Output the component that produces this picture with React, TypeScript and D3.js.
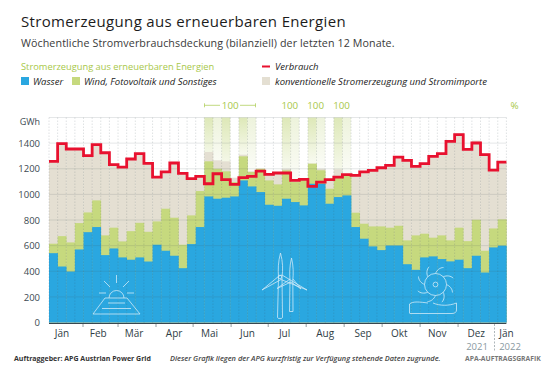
import React from "react";
import * as d3 from "d3";

const water = [541,437,398,570,705,745,526,578,508,490,508,476,607,560,521,424,612,745,984,966,974,984,1109,1062,1018,919,911,966,940,914,1083,1083,927,979,992,745,654,594,565,601,601,455,411,508,516,495,477,490,424,521,390,586,600];
const waterPlusWind = [615,674,625,776,859,953,680,740,633,713,778,708,789,888,818,607,836,1026,1258,1200,1180,1096,1297,1175,1200,1109,1078,1188,1096,1109,1240,1188,1044,1141,1148,857,771,750,750,740,755,641,680,693,662,680,641,740,635,802,560,734,805];
const total = [1260,1400,1358,1358,1306,1392,1330,1236,1216,1280,1322,1246,1138,1178,1250,1170,1125,1145,1331,1266,1258,1130,1310,1180,1200,1158,1168,1200,1110,1120,1240,1200,1118,1195,1154,1150,1180,1192,1212,1232,1295,1270,1222,1244,1300,1322,1425,1475,1358,1420,1320,1194,1256];
const consumption = [1258,1396,1354,1354,1302,1388,1325,1232,1213,1276,1318,1242,1135,1175,1245,1164,1123,1141,1083,1161,1115,1078,1130,1141,1182,1156,1167,1167,1109,1117,1062,1096,1115,1135,1154,1148,1176,1188,1208,1227,1291,1266,1219,1240,1297,1318,1414,1466,1352,1401,1310,1190,1252];
const yTicks = [0,200,400,600,800,1000,1200,1400];
const strongWeeks = [18,20,22,27,30,33];
const paleWeeks = [19,23,28,31,34];
const monthEdges = [3.94,8,12.4,16.7,21.1,25.4,29.8,34.2,38.6,43,47.4];
const monthLabels = ["Jän","Feb","Mär","Apr","Mai","Jun","Jul","Aug","Sep","Okt","Nov","Dez","Jän"];
const monthCenters = [1.5,5.7,9.85,14.5,18.6,23,27.3,32,36.4,40.6,45,49.5,53];
const percentLabels = [{ w: 21, t: "100" }, { w: 27.9, t: "100" }, { w: 30.9, t: "100" }, { w: 33.9, t: "100" }];

const W = 550, H = 367;
const x = d3.scaleLinear().domain([0, 53]).range([49, 506.4]);
const y = d3.scaleLinear().domain([0, 1600]).range([322.5, 117.5]);
const FONT = "'Open Sans', sans-serif";
const INK = "#3c4a52";
const BLUE = "#2aa7e0", GREEN = "#c6d97e", BEIGE = "#e4dfd2", RED = "#e8112f", LIME = "#a8c84a";

const stepPts = d3.range(53).flatMap((i) => [[x(i), y(consumption[i])], [x(i + 1), y(consumption[i])]] as [number, number][]);
const stepLine = d3.line()(stepPts) as string;

function Bars({ values, fill }: { values: number[]; fill: string }) {
  return <g>{values.map((v, i) => <rect key={i} x={x(i)} width={x(i + 1) - x(i) + 0.3} y={y(v)} height={y(0) - y(v)} fill={fill} />)}</g>;
}

function Icons() {
  const s = { fill: "none", stroke: "#cfeaf7", strokeWidth: 0.8, strokeLinejoin: "round" as const };
  const blades = d3.range(8).map((i) => i * 45);
  return (
    <g {...s}>
      <path d="M109 298A7.5 7.5 0 1 1 124 298" />
      <path d="M116.500 275V283M104 281L110 287M129 281L123 287M99 293H106M127 293H134" />
      <path d="M105 298H127L140 314H93Z" />
      <path d="M108 303H125M102 308.500H131" />
      <path d="M280.500 253C278 262 278 270 278.500 277L277.500 317.500Q277.500 318.500 280 318.500Q282.500 318.500 282.500 317.500L282 277C283 270 283 262 280.500 253Z" />
      <path d="M279 276L262 290L281 279.500L307 290L282 275Z" />
      <circle cx={280} cy={277} r={1.8} />
      <path d="M291.500 258C289.500 266 289.500 274 290 280L289.500 311.500H293L292.800 280C293.500 274 293.500 266 291.500 258Z" />
      <path d="M290 279L277 288.500L291 282L301 289L293 279" />
      <circle cx={435.500} cy={284.500} r={11} />
      <circle cx={435.500} cy={284.500} r={2.400} />
      {blades.map((a) => <path key={a} transform={`rotate(${a} 435.500 284.500)`} d="M435.500 273.500C437 270 440 267.500 443.500 267.500" />)}
      <path d="M409.500 313V304C413 301 420 302 428 303" />
      <path d="M433 303C440 306 449 306 456.500 303V310C456.500 312 455 313.500 452 313.500H409.500" />
    </g>
  );
}

export default function App() {
  return (
    <svg width={W} height={H} viewBox={`0 0 ${W} ${H}`} style={{ position: "absolute", left: 0, top: 0, background: "#fff" }} fontFamily={FONT}>
      <defs>
        <linearGradient id="gs" x1="0" y1="0" x2="0" y2="1"><stop offset="0" stopColor="#c9da8c" stopOpacity={0.62} /><stop offset="1" stopColor="#c9da8c" stopOpacity={0.12} /></linearGradient>
        <linearGradient id="gp" x1="0" y1="0" x2="0" y2="1"><stop offset="0" stopColor="#d5e2ab" stopOpacity={0.42} /><stop offset="1" stopColor="#d5e2ab" stopOpacity={0.08} /></linearGradient>
      </defs>

      <text x={21} y={26.500} fontSize={15} fontWeight={500} fill="#1c1c1c" letterSpacing={0.33}>Stromerzeugung aus erneuerbaren Energien</text>
      <text x={21} y={46.500} fontSize={10.7} fill="#3a3a3a" letterSpacing={0.1}>Wöchentliche Stromverbrauchsdeckung (bilanziell) der letzten 12 Monate.</text>

      <text x={21} y={70} fontSize={9.3} fontWeight={500} fill={LIME}>Stromerzeugung aus erneuerbaren Energien</text>
      <rect x={21} y={77} width={8} height={8} fill={BLUE} />
      <text x={33} y={84.500} fontSize={9.5} fontStyle="italic" fill="#222">Wasser</text>
      <rect x={72} y={77} width={8} height={8} fill={GREEN} />
      <text x={84} y={84.500} fontSize={9.5} fontStyle="italic" fill="#222">Wind, Fotovoltaik und Sonstiges</text>
      <line x1={262} x2={270} y1={66.500} y2={66.500} stroke={RED} strokeWidth={2} />
      <text x={275} y={70} fontSize={9.5} fontStyle="italic" fill="#222">Verbrauch</text>
      <rect x={262} y={77} width={8} height={8} fill={BEIGE} />
      <text x={275} y={84.500} fontSize={9.5} fontStyle="italic" fill="#222">konventionelle Stromerzeugung und Stromimporte</text>

      {strongWeeks.map((w) => <rect key={w} x={x(w)} width={x(w + 1) - x(w)} y={117.500} height={y(waterPlusWind[w]) - 117.500} fill="url(#gs)" />)}
      {paleWeeks.map((w) => <rect key={w} x={x(w)} width={x(w + 1) - x(w)} y={117.500} height={y(waterPlusWind[w]) - 117.500} fill="url(#gp)" />)}

      <Bars values={total} fill={BEIGE} />
      <Bars values={waterPlusWind} fill={GREEN} />
      <Bars values={water} fill={BLUE} />

      {yTicks.concat([1600]).map((t) => <line key={t} x1={x(0)} x2={x(53)} y1={y(t)} y2={y(t)} stroke="#44565c" strokeOpacity={0.18} strokeWidth={0.8} />)}
      {d3.range(54).map((i) => <line key={i} x1={x(i)} x2={x(i)} y1={117.500} y2={322.500} stroke="#44565c" strokeOpacity={0.25} strokeWidth={0.7} strokeDasharray="1.500 1.500" />)}

      <Icons />

      <path d={stepLine} fill="none" stroke={RED} strokeWidth={2.8} strokeLinejoin="miter" />

      {yTicks.map((t) => <text key={t} x={40} y={y(t) + 3.700} textAnchor="end" fontSize={9.5} fill={INK}>{t}</text>)}
      <text x={40} y={125} textAnchor="end" fontSize={9} fontWeight={500} fill={INK}>GWh</text>

      <line x1={x(0)} x2={x(53)} y1={323.500} y2={323.500} stroke="#37474f" strokeWidth={1} />
      {monthEdges.map((m) => <line key={m} x1={x(m)} x2={x(m)} y1={324} y2={327} stroke="#7a868c" strokeWidth={0.8} />)}
      <line x1={494.500} x2={494.500} y1={324} y2={352} stroke="#9aa5aa" strokeWidth={0.8} strokeDasharray="2 1.500" />
      {monthLabels.map((m, i) => <text key={i} x={x(monthCenters[i])} y={337} textAnchor="middle" fontSize={10} fill="#2f3d45">{m}</text>)}
      <text x={477} y={350} textAnchor="middle" fontSize={9.5} fill="#8a999f">2021</text>
      <text x={510} y={350} textAnchor="middle" fontSize={9.5} fill="#8a999f">2022</text>

      {percentLabels.map((p, i) => <text key={i} x={x(p.w)} y={108.500} textAnchor="middle" fontSize={9.800} fill={LIME}>{p.t}</text>)}
      <text x={514.500} y={108.500} textAnchor="middle" fontSize={9.800} fill={LIME}>%</text>
      <path d="M204.500 105.300H220M240 105.300H255.500M204.500 103.300V107.300M255.500 103.300V107.300" stroke={LIME} strokeWidth={0.7} fill="none" />

      <text x={14} y={361} fontSize={7} fontWeight={700} fill="#333">Auftraggeber: APG Austrian Power Grid</text>
      <text x={170} y={361} fontSize={7.400} fontStyle="italic" fontWeight={600} fill="#444">Dieser Grafik liegen der APG kurzfristig zur Verfügung stehende Daten zugrunde.</text>
      <text x={465} y={361} fontSize={6.800} fontWeight={700} fill="#777">APA-AUFTRAGSGRAFIK</text>
    </svg>
  );
}
